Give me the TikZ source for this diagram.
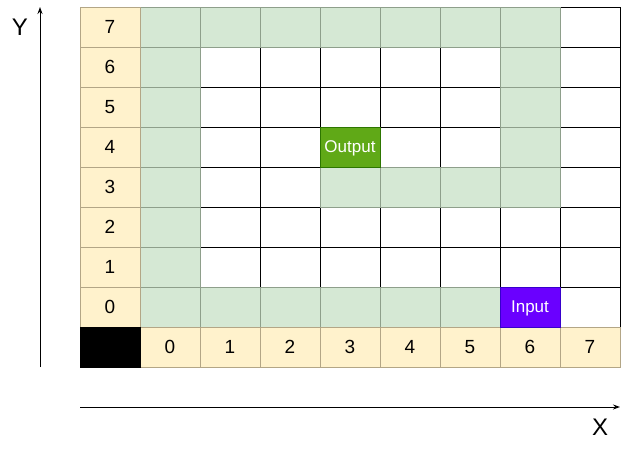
\documentclass[tikz,border=0pt]{standalone}
\usepackage{fontspec}
\setmainfont{Liberation Sans}
\usetikzlibrary{arrows.meta}
\definecolor{gfill}{HTML}{D5E8D4}
\definecolor{gline}{HTML}{8E9F8B}
\definecolor{yfill}{HTML}{FFF2CC}
\definecolor{yline}{HTML}{B3A686}
\definecolor{ofill}{HTML}{60A917}
\definecolor{oline}{HTML}{2D7600}
\definecolor{ifill}{HTML}{6A00FF}
\definecolor{iline}{HTML}{3700CC}
\begin{document}
\begin{tikzpicture}[x=1pt,y=-1pt,
  base/.style={line width=1pt,minimum width=60pt,minimum height=40pt,inner sep=0pt,outer sep=0pt,font=\fontsize{19}{19}\selectfont},
  wcell/.style={base,draw=black,fill=white},
  gcell/.style={base,draw=gline,fill=gfill},
  ycell/.style={base,draw=yline,fill=yfill},
  bcell/.style={base,draw=black,fill=black},
  ocell/.style={base,draw=oline,fill=ofill,text=white,text depth=0pt,font=\fontsize{17}{17}\selectfont},
  icell/.style={base,draw=iline,fill=ifill,text=white,text depth=0pt,font=\fontsize{17}{17}\selectfont},
  axis/.style={line width=1pt,-{Stealth[length=7pt,width=5pt]}},
  axlab/.style={font=\fontsize{24}{24}\selectfont,inner sep=0pt}]
\useasboundingbox (0,0) rectangle (629,448);
% white cells
\foreach \X in {0,...,7}{\foreach \Y in {0,...,7}{
  \pgfmathtruncatemacro{\isg}{or(\X==0, or(and(\Y==7,\X<=6), or(and(\Y==0,\X<=5), or(and(\X==6,\Y>=3), and(\Y==3, and(\X>=3,\X<=6))))))}
  \pgfmathtruncatemacro{\isw}{and(\isg==0, and(not(and(\X==3,\Y==4)), not(and(\X==6,\Y==0))))}
  \ifnum\isw=1 \node[wcell] (g-\X-\Y) at (170+60*\X, 307-40*\Y) {}; \fi
}}
% green path cells
\foreach \X in {0,...,7}{\foreach \Y in {0,...,7}{
  \pgfmathtruncatemacro{\isg}{or(\X==0, or(and(\Y==7,\X<=6), or(and(\Y==0,\X<=5), or(and(\X==6,\Y>=3), and(\Y==3, and(\X>=3,\X<=6))))))}
  \ifnum\isg=1 \node[gcell] (g-\X-\Y) at (170+60*\X, 307-40*\Y) {}; \fi
}}
% labels
\foreach \Y in {0,...,7}{\node[ycell] (ly-\Y) at (110, 307-40*\Y) {\Y};}
\foreach \X in {0,...,7}{\node[ycell] (lx-\X) at (170+60*\X, 347) {\X};}
\node[bcell] (corner) at (110,347) {};
\node[ocell] (g-3-4) at (350,147) {Output};
\node[icell] (g-6-0) at (530,307) {Input};
% axes
\coordinate (ya) at (40,367);
\coordinate (yb) at (40,7);
\coordinate (xa) at (80,407);
\coordinate (xb) at (620,407);
\draw[axis] (ya) -- (yb);
\draw[axis] (xa) -- (xb);
\node[axlab] (ylab) at (20,27) {Y};
\node[axlab] (xlab) at (600,427) {X};
\end{tikzpicture}
\end{document}
